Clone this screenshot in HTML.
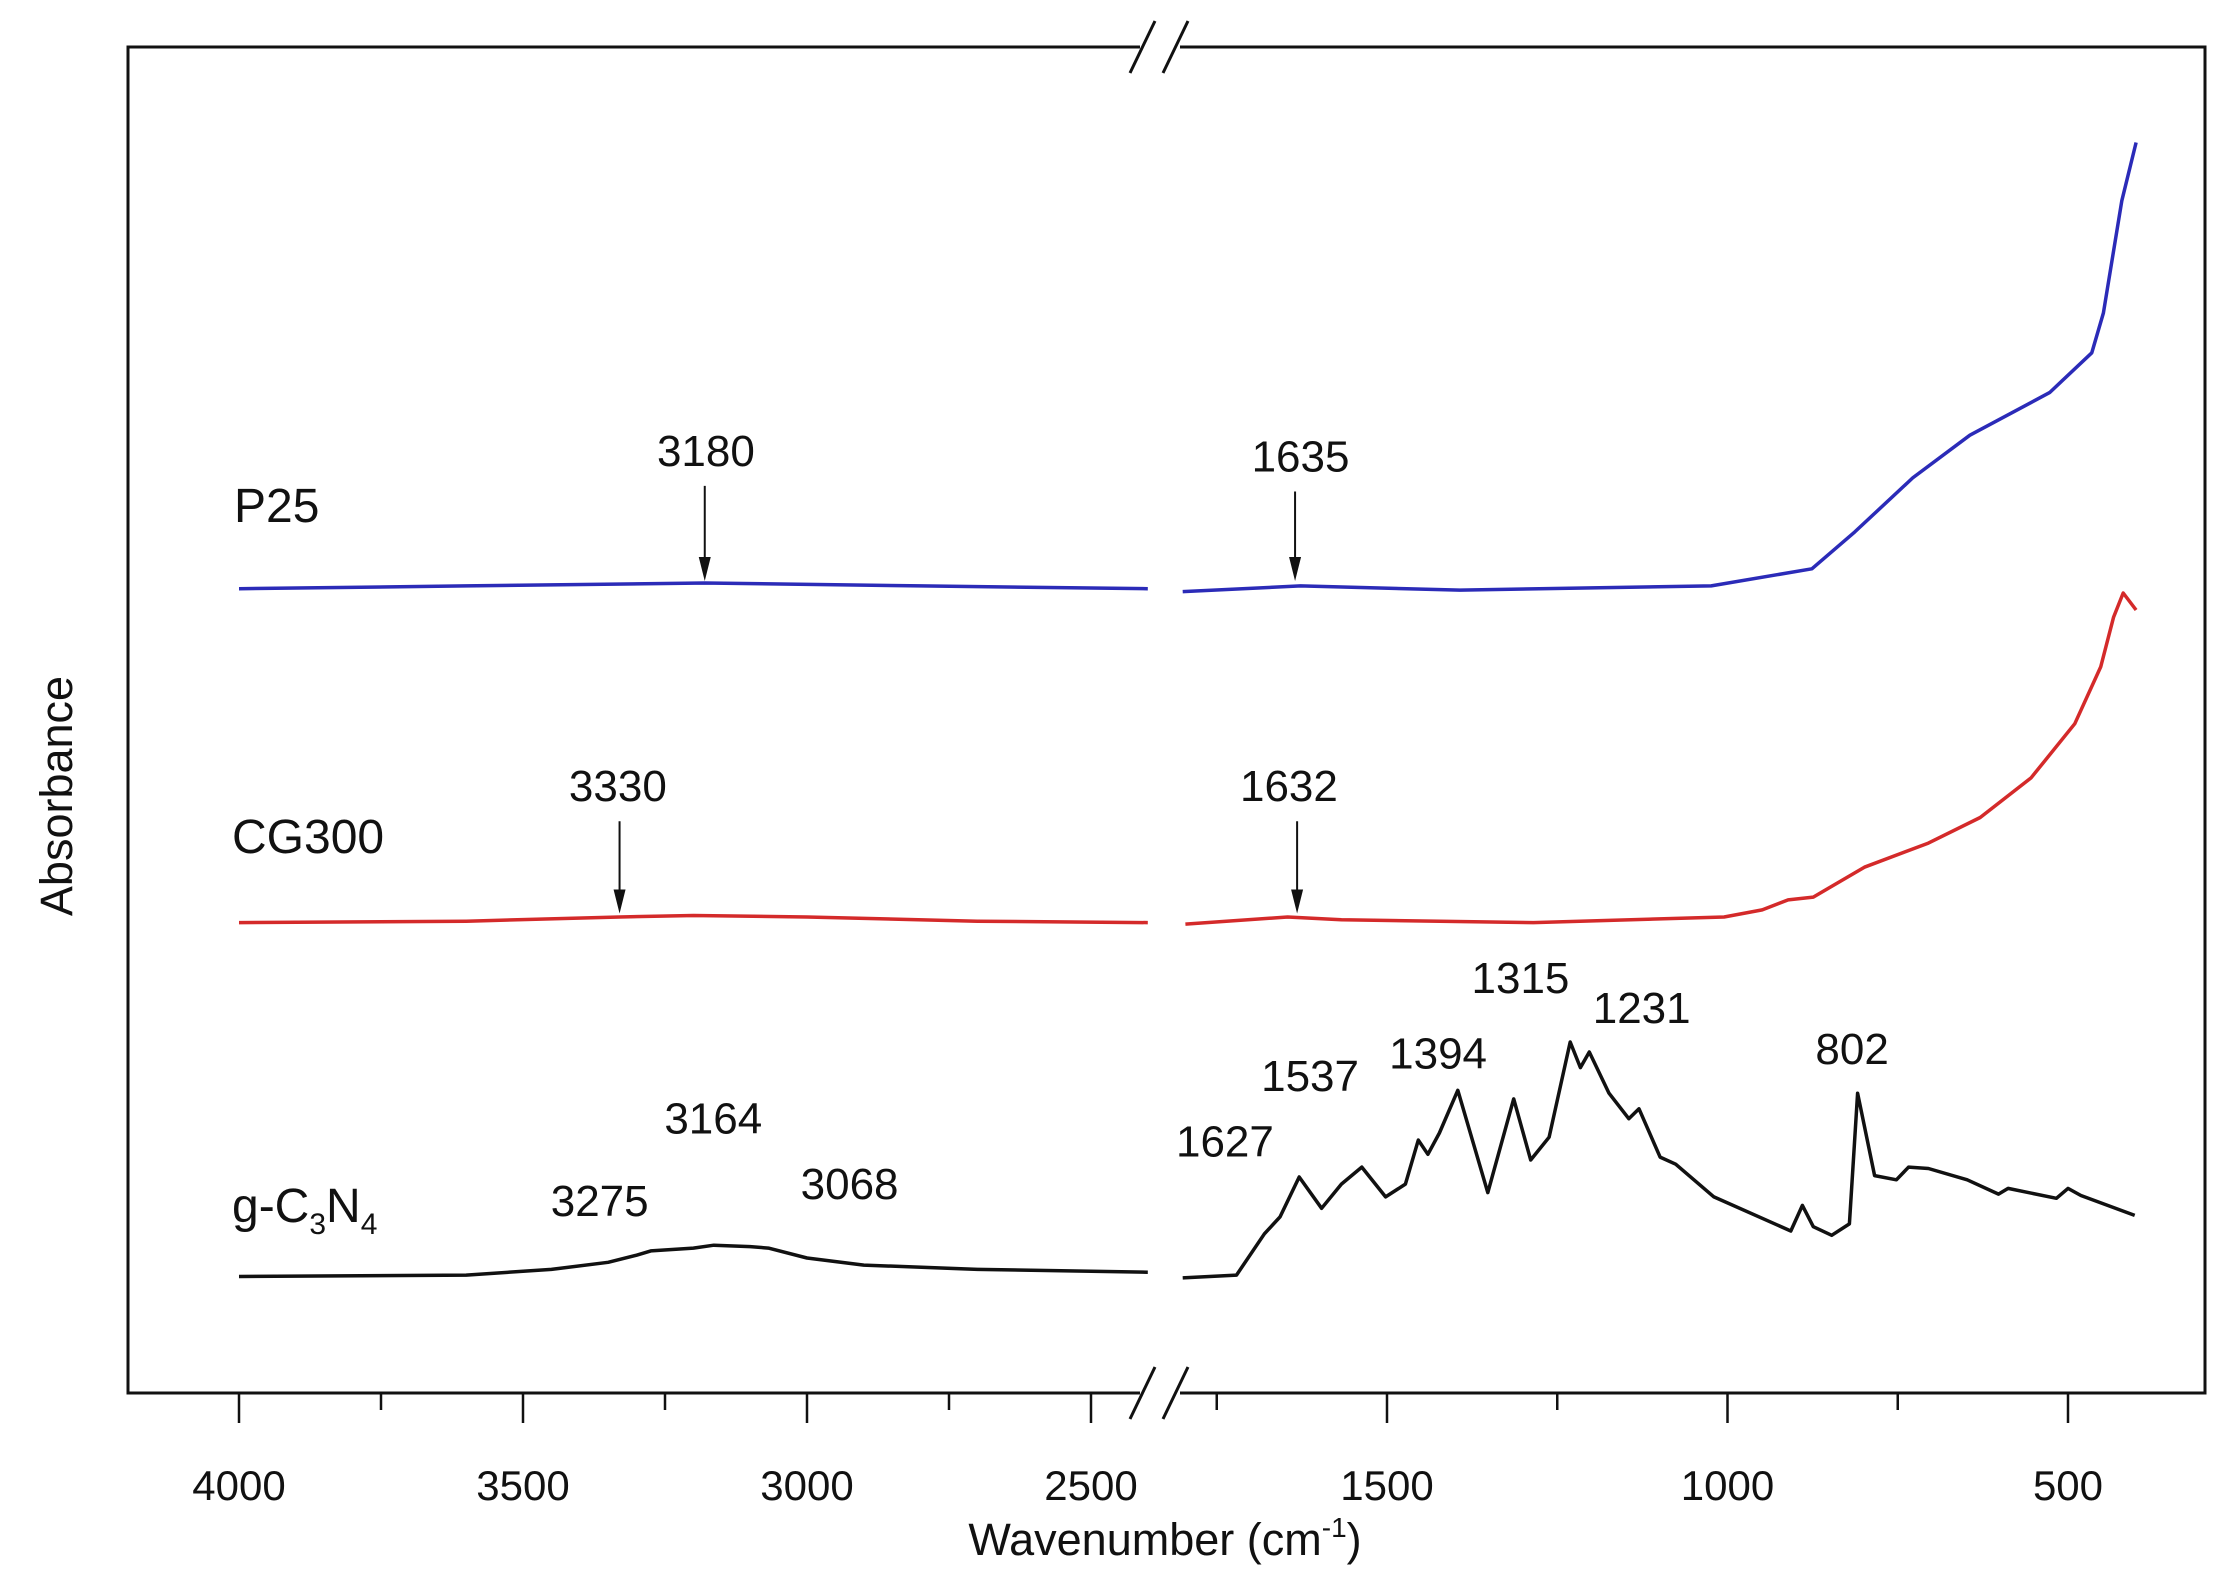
<!DOCTYPE html>
<html><head><meta charset="utf-8">
<style>
html,body{margin:0;padding:0;background:#fff;}
svg{display:block;font-family:"Liberation Sans",Arial,sans-serif;}
</style></head>
<body>
<svg id="chart" width="2227" height="1588" viewBox="0 0 2227 1588" xmlns="http://www.w3.org/2000/svg">
<rect x="0" y="0" width="2227" height="1588" fill="#fff"/>
<g id="plot"></g>
</svg>
<script>
// ---- data (wavenumber cm-1, absorbance arbitrary units) ----
const leftTicksMajor = [4000, 3500, 3000, 2500];
const leftTicksMinor = [3750, 3250, 2750];
const rightTicksMajor = [1500, 1000, 500];
const rightTicksMinor = [1750, 1250, 750];

const p25Wn  = [4000,3600,3180,2800,2400, 1800,1627,1393,1024,876,813,728,644,527,465,448,421,400];
const p25Abs = [566,568,570,568,566, 564,568,565,568,580,606,644,674,704,732,760,839,880];

const cgWn  = [4000,3600,3330,3200,3000,2700,2400, 1796,1646,1567,1285,1005,949,911,874,799,705,629,554,490,452,433,419,400];
const cgAbs = [331,332,335,336,335,332,331, 330,335,333,331,335,340,347,349,370,387,405,433,471,511,546,563,551];

const gWn  = [4000,3600,3450,3350,3300,3275,3200,3164,3100,3068,3000,2900,2700,2400,
  1800,1721,1680,1657,1629,1596,1567,1537,1502,1473,1454,1440,1423,1396,1352,1314,1289,1262,1231,1216,1203,1174,1145,1130,1099,1076,1020,907,890,874,847,821,809,784,752,734,705,648,602,588,517,500,481,402];
const gAbs = [82,83,87,92,97,100,102,104,103,102,95,90,87,85,
  81,83,112,124,152,130,147,159,138,147,178,168,183,213,141,207,164,180,247,229,240,211,193,200,166,161,138,114,132,117,111,119,211,153,150,159,158,150,140,144,137,144,139,125];

const seriesList = [
  {name:'p25', wn:p25Wn, abs:p25Abs, color:'#2b2bb8'},
  {name:'cg300', wn:cgWn, abs:cgAbs, color:'#d42a2a'},
  {name:'g-c3n4', wn:gWn, abs:gAbs, color:'#111'}
];

// peak annotations
const peakLabels = ['3180','1635','3330','1632','3275','3164','3068','1627','1537','1394','1315','1231','802'];
const peakWn     = [3180,1635,3330,1632,3275,3164,3068,1627,1537,1394,1315,1231,802];
const labelWn    = [3178,1627,3333,1644,3365,3165,2925,1738,1613,1425,1304,1126,817];
const peakAbsY   = [663,659,427,427,135,193,147,177,223,239,292,271,242];
const arrowIdx   = [0,1,2,3];

// ---- axes ----
const L=128, R=2205, T=47, B=1393;
function xScale(w){
  if (w >= 2000) return 239 + (4000 - w) * (852/1500);
  return 1387 + (1500 - w) * (681/1000);
}
function yScale(a){ return B - a*1.421; }

const svg=document.getElementById('plot');
const NS='http://www.w3.org/2000/svg';
function mk(tag,attrs){const e=document.createElementNS(NS,tag);for(const k in attrs)e.setAttribute(k,attrs[k]);svg.appendChild(e);return e;}

const frame=mk('rect',{x:L,y:T,width:R-L,height:B-T,fill:'none',stroke:'#111','stroke-width':3});



// break marks
[[T],[B]].forEach(([yy],i)=>{
  const gap=mk('rect',{x:1140,y:yy-4,width:40,height:8,fill:'#fff'});
  
  
  [1130,1163].forEach(x0=>{
    const l=mk('line',{x1:x0,y1:yy+26,x2:x0+25,y2:yy-26,stroke:'#111','stroke-width':3});
    
    
  });
});

function tick(w,len,lab){
  const x=xScale(w);
  const t=mk('line',{x1:x,y1:B,x2:x,y2:B+len,stroke:'#111','stroke-width':2.5});
  
  
  if(lab){
    const tx=mk('text',{x:x,y:1500,'text-anchor':'middle','font-size':42,fill:'#111'});
    tx.textContent=String(w);
    
    
  }
}
leftTicksMajor.forEach(w=>tick(w,30,true));
rightTicksMajor.forEach(w=>tick(w,30,true));
leftTicksMinor.forEach(w=>tick(w,17,false));
rightTicksMinor.forEach(w=>tick(w,17,false));

const xt=mk('text',{x:1165,y:1555,'text-anchor':'middle','font-size':45,fill:'#111'});
xt.innerHTML='Wavenumber (cm<tspan font-size="28" dy="-18">-1</tspan><tspan dy="18">)</tspan>';



const yt=mk('text',{x:0,y:0,'text-anchor':'middle','font-size':45,fill:'#111',transform:'translate(72,796) rotate(-90)'});
yt.textContent='Absorbance';



// series (two segments each)
seriesList.forEach(s=>{
  [[w=>w>=2000],[w=>w<2000]].forEach(([f],k)=>{
    let d='';
    s.wn.forEach((w,i)=>{ if(f(w)){ d+=(d?'L':'M')+xScale(w).toFixed(1)+','+yScale(s.abs[i]).toFixed(1); } });
    const p=mk('path',{d:d,fill:'none',stroke:s.color,'stroke-width':3.5,'stroke-linejoin':'round'});
    
    
  });
});

// sample labels
const sl1=mk('text',{x:234,y:522,'font-size':48,fill:'#111'}); sl1.textContent='P25';
 
const sl2=mk('text',{x:232,y:853,'font-size':48,fill:'#111'}); sl2.textContent='CG300';
 
const sl3=mk('text',{x:232,y:1222,'font-size':48,fill:'#111'});
sl3.innerHTML='g-C<tspan font-size="30" dy="12">3</tspan><tspan dy="-12">N</tspan><tspan font-size="30" dy="12">4</tspan>';
 

// peak labels
peakLabels.forEach((lab,i)=>{
  const t=mk('text',{x:xScale(labelWn[i]),y:yScale(peakAbsY[i])+15,'text-anchor':'middle','font-size':44,fill:'#111'});
  t.textContent=lab;
  
  
});
// arrows
arrowIdx.forEach(i=>{
  const x=xScale(peakWn[i]);
  const y1=yScale(peakAbsY[i])+35;
  const y2=yScale(i<2?570:336);
  const ln=mk('line',{x1:x,y1:y1,x2:x,y2:y2-22,stroke:'#111','stroke-width':2});
  
  
  const hd=mk('polygon',{points:`${x-6},${y2-26} ${x+6},${y2-26} ${x},${y2-2}`,fill:'#111'});
  
  
});
</script>
</body></html>
